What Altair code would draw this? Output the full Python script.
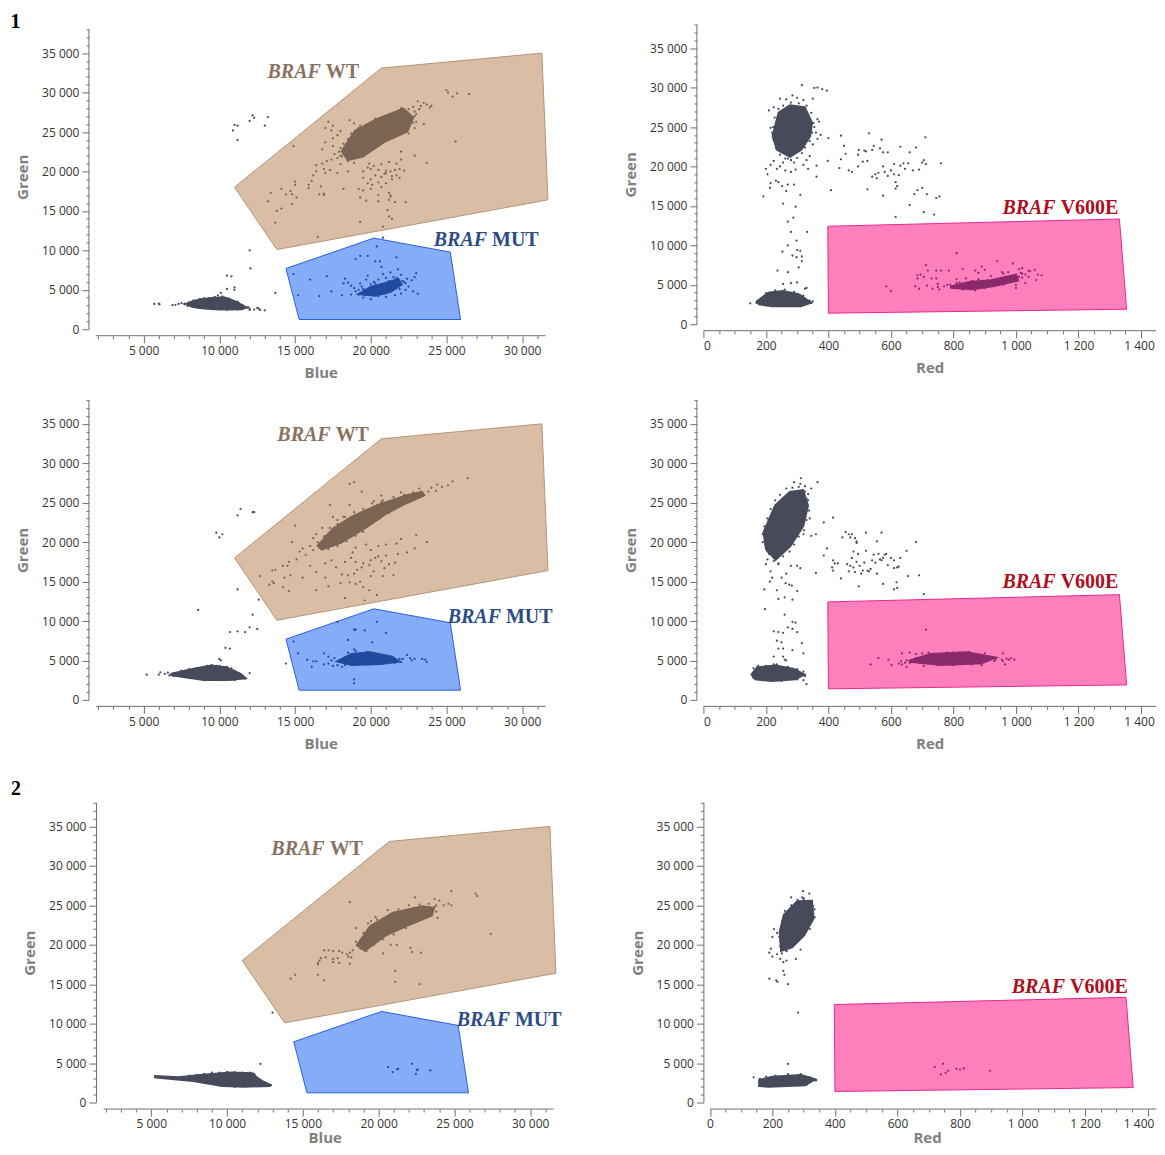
import altair as alt
import pandas as pd

# ---- gates (same in all panels) ----
GATE_WT = [(11000,18000),(13800,10100),(31700,16400),(31300,35000),(20700,33100)]
GATE_MUT = [(14400,7700),(20200,11550),(25250,9780),(25930,1230),(15270,1230)]
GATE_V600E = [(398,12420),(1331,13340),(1354,1900),(400,1400)]

# ---- panel 1, Blue / Green ----
A_CORE = [(7900,3200),(8500,3600),(9500,3900),(10300,4000),(11000,3500),(11700,2800),(11500,2600),(10000,2550),(9000,2700),(8200,2900)]
A_GRAY = [(5700,3200),(6000,3250),(6050,3150),(6900,3050),(7100,3100),(7300,3200),(7500,3300),(7700,3150),(12000,2600),(12300,2500),(12500,2700),(12600,2600),(12700,2450),(13000,2400),(12000,2450),(11900,2800),(10100,4600),(9900,4300),(10500,5100),(11000,5300),(11000,5000),(10500,6800),(10800,6700),(12000,10000),(12050,7700),(13700,4600),(10900,25200),(11000,25900),(11200,25800),(11200,24000),(12000,26400),(12200,27100),(12300,26800),(13000,25800),(13200,26900),(9000,3950),(8700,3800),(10600,3900),(11200,3500),(11500,3100),
(8000,3400),(8300,3650),(8800,3800),(9300,3950),(9700,4100),(10200,4150),(10700,3800),(11300,3300),(11800,2700),(11200,2500),(10500,2450),(9500,2550),(8600,2700),(7900,2950),(7700,3250),(8200,3500)]
A_WT_CORE = [(18120,22580),(18980,25120),(20440,26600),(22150,27880),(22760,26820),(22390,25120),(20930,23850),(19460,21950),(18490,21520)]
A_WT = [(23100,28900),(23300,28300),(23500,28700),(23700,28500),(24000,28300),(23900,28100),(23200,27900),(22900,27600),(22800,28200),(23000,27300),(22700,26700),(23000,26300),(23500,26000),(22900,25500),(22500,24800),(25000,30300),(25100,30000),(25400,29500),(25700,29900),(26500,29800),(25600,23800),(23700,21100),(22900,22000),(22000,22500),(17200,26300),(17000,25500),(17500,25800),(17400,25200),(18000,25100),(18600,26500),(18900,26100),(19300,25800),(17800,24600),(17500,24200),(17000,23700),(16800,22800),(17500,23200),(14900,23200),(18000,22000),(17600,22200),(17400,21500),(17800,21700),(17100,21300),(16800,21000),(16400,20800),(16900,20300),(16400,20000),(17000,19800),(16200,19500),(16100,18800),(15900,18300),(15900,17900),(16700,18100),(16900,17200),(16600,17100),(16900,17000),(15000,18700),(15000,18300),(14700,17500),(14800,17100),(15100,16700),(14400,17100),(14100,17800),(13400,17300),(13200,16200),(13800,15000),(14100,15300),(13700,13500),(14800,15900),(16500,11700),(19500,20000),(20000,20300),(20500,20200),(21000,20100),(21300,20000),(21600,20200),(21900,20300),(22200,20100),(21000,19800),(20300,19500),(20700,19300),(21400,19400),(20000,19000),(19800,18500),(20500,18600),(21000,18500),(21400,19000),(19500,19200),(19900,21000),(20700,20900),(21200,21200),(21700,21000),(22000,21500),(19200,17800),(19500,17600),(20000,17800),(20500,17000),(21200,17300),(21300,17000),(21300,16800),(19300,16700),(19700,16300),(20500,16200),(21200,16400),(21600,16100),(22300,16100),(21100,15100),(21200,14300),(21400,14000),(19300,13600),(20800,13000),(18200,17800),(18500,20000),(17800,19800),(18000,20900),(17300,20200),(18900,21100),(19800,20500),(20200,20700),(20900,19700),(21700,19500),(21900,19200),(20100,18300),(20700,18000),
(18000,23000),(18200,23500),(18500,24100),(18700,24800),(19200,25500),(19700,25900),(20300,26700),(20900,27000),(21500,27400),(22000,28000),(22500,27900),(22900,27000),(22800,26200),(22300,25500),(21700,24900),(21100,24100),(20500,23700),(20000,23000),(19500,22000),(19000,21800),(18500,21300),(18100,21900),(17900,22500)]
A_MUT_CORE = [(19300,4500),(20000,5300),(21000,5800),(21800,6300),(22000,5700),(21300,4800),(20300,4300)]
A_MUT = [(14900,7000),(15200,4300),(16000,6300),(16600,4200),(17100,6700),(17400,4800),(18100,4300),(18300,6400),(18700,4400),(18700,5500),(19000,8900),(19300,9300),(19800,9300),(20400,10500),(20800,11600),(20300,8600),(20600,8600),(20700,7900),(21700,9100),(21800,7600),(22000,6900),(19800,6800),(19700,6300),(19300,5800),(19000,4800),(18900,5200),(19200,4400),(19500,4000),(20000,3800),(20500,4200),(21000,4100),(21600,4300),(22000,4500),(22300,5000),(22500,5400),(22700,6200),(22900,6600),(23000,7100),(23100,4500),(22800,4800),(21500,6600),(21000,6500),(20500,6300),(20200,6000),(20800,7000),(21300,7200),(22200,6000),(22400,6400),(19500,5100),(19700,4700),(20300,5800),(18500,5900),(18200,5800),
(19500,4600),(19800,5000),(20100,4600),(20400,5000),(20700,4700),(21000,5000),(21300,5400),(21600,5700),(21900,5100),(22100,6100),(19200,5000),(19400,5400),(20000,5700),(20600,5500),(21200,6100),(21700,6500),(22300,5800),(20900,4500),(20300,4800),(19600,4300)]
B_CORE = [(231,25100),(242,26800),(277,27700),(323,27450),(346,25550),(340,23850),(312,22150),(277,21300),(237,22150),(223,23850)]
B_CORE2 = [(173,2880),(208,3940),(254,4150),(306,3730),(341,2750),(312,2330),(219,2330),(179,2580)]
B_GRAY = [(150,2650),(315,30300),(355,29950),(365,30000),(380,29800),(395,29600),(245,28600),(265,28500),(285,29000),(300,28700),(320,28400),(350,28600),(210,27100),(225,27500),(365,26000),(370,25700),(355,25000),(360,24300),(375,24000),(365,23500),(400,23600),(440,23900),(350,22800),(340,21300),(330,20800),(200,19700),(205,19000),(215,20200),(225,20700),(235,19700),(245,20000),(262,19500),(280,19300),(295,19600),(320,20200),(335,19700),(362,20100),(362,18700),(215,17900),(213,17300),(232,18200),(240,18000),(252,17500),(270,17700),(290,17700),(265,16900),(192,16200),(310,16400),(255,15300),(295,14900),(270,13000),(288,13500),(280,11700),(332,11700),(298,10600),(270,10000),(253,9200),(300,9400),(310,9300),(285,8700),(298,8500),(315,8600),(315,8000),(305,7200),(237,6800),(270,6600),(255,5100),(280,5200),(325,4500),(300,5300),(330,4600),(350,2900),
(398,20700),(408,17000),(440,20900),(435,19800),(450,22600),(455,21600),(465,19500),(475,19300),(495,21500),(497,22100),(495,20000),(510,20600),(515,22000),(520,21900),(525,20700),(530,24200),(525,17100),(540,22100),(545,22600),(550,19000),(540,18700),(555,18500),(560,19200),(570,23400),(565,22300),(575,21800),(575,20000),(580,19300),(575,16300),(590,21800),(590,18800),(600,19500),(610,20300),(610,19000),(615,18000),(620,17500),(615,17200),(625,18900),(630,22500),(630,20100),(640,20400),(645,19700),(655,20400),(660,21800),(680,22400),(670,19500),(675,16500),(685,17000),(690,19600),(700,20500),(700,17300),(705,20800),(710,23700),(712,20300),(715,16500),(760,20400),(745,16000),(755,16200),(705,14200),(738,13900),(615,13600),(660,15100),
(223,25000),(228,26200),(240,27300),(255,27700),(280,28100),(305,28000),(330,27700),(345,26800),(352,25500),(348,24300),(340,23200),(325,22400),(315,21700),(300,21100),(280,20800),(262,21000),(245,21500),(232,22300),(225,23300),(220,24300),(215,24900),(270,21000),(290,20500),(255,20500),(175,3000),(170,2700),(200,3900),(230,4300),(260,4400),(290,4100),(320,3600),(340,3000),(345,2700),(310,2400),(250,2300),(200,2400)]
B_V_CORE = [(790,4700),(850,5300),(920,5500),(1000,6200),(1005,5600),(930,4900),(860,4500)]
B_V = [(585,4800),(600,4200),(678,4800),(685,6200),(685,5800),(690,4500),(695,6300),(705,6000),(712,7500),(715,4900),(718,6800),(730,5800),(733,4500),(745,6800),(745,5800),(750,4700),(755,4400),(760,6800),(785,6800),(780,5000),(810,9000),(830,7000),(840,5800),(870,6800),(880,6500),(890,7300),(900,6900),(940,8000),(955,6600),(990,7700),(1000,5000),(1010,7000),(1020,7100),(1040,6800),(1030,6300),(1045,6700),(1060,6900),(1065,5600),(1070,6300),(1082,6200),(1020,5900),(1030,5200),(1000,4600),(1040,6000),(960,6400),(975,6600),(920,6100),(880,5700),(810,5700),(830,4400),(870,4300),(900,4600),(960,5000),(1015,6500),
(790,5000),(810,5200),(830,4700),(850,5000),(870,5300),(890,5000),(910,5600),(930,5500),(950,5800),(970,5900),(990,6100),(1010,6000),(1020,6400),(980,5400),(940,5200),(900,5200),(860,5500),(820,5300),(800,4600),(770,4800),(750,5100)]

# ---- panel 2 ----
C_CORE = [(6780,3220),(8240,3860),(9460,4280),(10440,4070),(11410,3220),(11660,2800),(10680,2580),(8980,2580),(7510,3000)]
C_GRAY = [(5200,3200),(6000,3200),(6100,3500),(6400,3300),(6600,3450),(6700,3100),(12000,3400),(10000,5200),(10100,5000),(10400,6600),(10700,6500),(8600,11400),(9800,21200),(10000,20600),(10200,21000),(11200,23400),(11400,24200),(12200,23800),(12300,23800),(12600,12700),(11200,14000),(12200,10800),(10700,8600),(11200,8700),(11700,8600),(12000,9200),(12500,9000),(14400,4600),(10800,4000),(11300,3300),(11000,3700),(9800,4300),(9200,4300),
(7000,3400),(7500,3700),(8000,3900),(8500,4000),(9000,4200),(9500,4400),(10000,4300),(10500,4200),(11000,3500),(11500,3000),(11700,2700),(11000,2500),(10000,2500),(9000,2500),(8000,2800),(7000,3000)]
C_WT_CORE = [(16540,19530),(17510,21650),(18730,23130),(20440,24620),(22390,25890),(23370,26310),(23490,25970),(22150,24830),(20930,23560),(19460,21650),(18000,19960),(16780,19110)]
C_WT = [(26400,28100),(25400,27700),(25100,27200),(24700,27000),(24400,27300),(24000,26900),(24300,26500),(23800,26400),(23200,26800),(22800,26000),(22000,26300),(21900,25500),(20700,25900),(20700,25100),(19400,26400),(18900,27600),(18600,27400),(18600,24700),(17300,24700),(15000,22100),(14800,20000),(17500,23200),(17800,22800),(17200,21000),(17000,20800),(16400,21000),(16800,21800),(18200,23200),(20200,25200),(16000,19500),(15500,19200),(15300,18800),(15700,18400),(15100,17800),(14600,17500),(14500,17000),(14200,17000),(13500,16400),(14300,15500),(14700,15800),(12700,15700),(13700,16500),(13500,15000),(13300,14600),(13600,14800),(14200,14300),(14600,13800),(16400,13900),(17200,14400),(18000,14800),(18600,14900),(19000,14700),(19500,14300),(19300,15000),(20000,15700),(20800,15700),(21500,15800),(18300,12900),(19600,12600),(20400,13300),(19900,13900),(15500,15500),(16000,17000),(16400,16200),(17000,15500),(17700,16800),(18100,15900),(18500,15800),(18900,16000),(19100,16500),(19400,16800),(19000,17500),(19500,17300),(19900,17100),(20000,17700),(20300,18000),(20500,18200),(20700,17600),(21000,18300),(21200,17200),(21600,17400),(21800,18500),(22400,18700),(22900,19200),(23000,20900),(23700,20000),(20900,16700),(20200,16300),(18800,18700),(18700,18000),(18300,17500),(17400,17700),(17000,17300),(20000,19000),(20500,19500),(21000,19700),(21700,19800),(22000,20400),(19700,19700),(19000,19300),(16200,20500),
(16200,19000),(16500,20000),(16900,20700),(17300,21800),(17800,22300),(18300,23200),(18900,23800),(19500,24200),(20100,24900),(20800,25300),(21500,25700),(22200,26000),(22800,26300),(23000,25800),(22400,25300),(21800,24500),(21200,23700),(20600,23000),(20000,22300),(19500,21300),(19000,20800),(18400,20100),(17800,19500),(17200,19100)]
C_MUT_CORE = [(17880,4910),(18730,5760),(19950,5970),(21410,5420),(21780,4910),(20680,4620),(18730,4490)]
C_MUT = [(14900,7400),(15200,5900),(15800,5100),(16200,4900),(16400,4900),(16100,4200),(16900,5900),(16900,4500),(17200,5500),(17400,5000),(17600,5300),(17200,4600),(17800,9900),(18900,8900),(19000,8900),(19600,8800),(20400,9900),(21000,8500),(18500,7600),(20100,7300),(18900,6400),(18500,6000),(19000,6200),(18900,2600),(18900,2100),(19100,5600),(19800,6100),(20500,5800),(21900,5200),(22100,5200),(22400,5700),(22600,5300),(22700,5000),(22900,5200),(23600,5100),(23700,4800),(23400,5200),(22000,4800),(21600,4700),(17500,4300),(17800,4400),(18100,4200),(18300,4400)]
D_CORE = [(194,21230),(231,24620),(277,26310),(318,26520),(333,24620),(318,22070),(277,19530),(231,17840),(202,19110)]
D_CORE2 = [(156,3220),(173,4070),(231,4280),(289,3860),(320,3220),(294,2670),(219,2460),(167,2670)]
D_GRAY = [(312,28100),(290,27600),(310,27400),(325,27100),(365,27600),(345,26800),(318,26500),(335,26100),(330,25500),(330,24000),(340,23000),(320,21000),(345,20800),(360,21000),(190,20000),(205,18800),(200,17200),(205,17800),(215,16300),(213,15000),(220,15500),(195,14000),(235,13900),(240,12800),(260,13000),(285,12700),(263,14800),(275,14600),(283,14500),(300,13800),(197,11500),(260,10800),(285,9900),(295,9800),(225,8700),(240,8600),(255,8500),(270,9200),(285,9000),(300,8600),(235,7500),(250,7300),(315,7200),(240,6500),(255,6500),(285,6300),(320,5900),(225,5500),(255,5500),(260,5100),(265,5000),(225,4500),(330,2000),(320,2500),(250,15500),(265,16000),(280,17000),(300,17000),(310,16700),(240,17200),
(385,18300),(395,19200),(415,17700),(412,16800),(415,16400),(420,17300),(430,17300),(360,16100),(385,22500),(415,23100),(440,15400),(445,20600),(455,21300),(465,21000),(470,20600),(475,21000),(485,20500),(490,20100),(490,19900),(520,21200),(497,14400),(460,17200),(465,16300),(470,17000),(475,18000),(480,18800),(480,16800),(485,16200),(490,17500),(495,18500),(500,17000),(505,16000),(510,16400),(515,17400),(520,18900),(525,16400),(530,16300),(535,16600),(540,17700),(545,18400),(550,17400),(555,16000),(555,20100),(560,18500),(565,17800),(570,17700),(570,21200),(575,18000),(580,18400),(575,14700),(585,18500),(590,17100),(600,18000),(610,17700),(610,16700),(625,16900),(630,18000),(620,16800),(610,14000),(618,14900),(620,14200),(650,18900),(680,20000),(655,15700),(690,15800),(705,13400),
(190,21000),(195,22000),(205,23000),(215,24200),(230,25300),(245,26000),(265,26800),(285,26900),(305,27000),(325,26400),(335,25300),(338,24000),(330,22800),(322,21500),(305,20700),(290,19700),(275,18800),(255,18200),(240,17300),(225,17600),(210,18500),(198,19700),(160,4000),(175,4300),(200,4300),(235,4500),(270,4200),(300,3900),(320,3600),(325,3000),(300,2600),(250,2400),(190,2500),(160,2800)]
D_V_CORE = [(658,4910),(727,5760),(843,5970),(930,5340),(889,4700),(762,4490)]
D_V = [(535,4500),(560,5300),(592,5100),(602,4400),(625,4600),(632,4900),(635,4500),(645,4700),(650,4200),(635,5900),(660,6000),(660,4700),(680,5800),(700,5900),(705,4300),(712,8900),(720,6000),(750,4400),(800,4400),(850,6100),(890,4400),(900,5900),(925,5400),(935,5100),(955,5100),(958,5900),(958,4900),(965,4500),(970,5200),(978,5100),(985,5300),(995,5100),(860,4500),(820,6000),(780,6000),
(650,5000),(680,5300),(710,5500),(740,4800),(770,5700),(800,6000),(830,5800),(860,5700),(900,5500),(930,4900),(900,5000),(850,4600),(790,4500),(730,4700),(690,4700)]

# ---- panel 3 ----
E_CORE = [(6780,3130),(8240,3430),(10200,3730),(11660,3640),(12150,2800),(12880,2160),(11170,2080),(9710,2160),(7760,2800),(5320,3220),(5200,3300)]
E_GRAY = [(12200,4900),(13000,11400),(11300,3600),(11700,3400),(9000,3300),(12500,2400),(12900,2200),
(6000,3100),(6500,3200),(7000,3000),(7500,3400),(8000,3500),(8500,3650),(9000,3800),(9500,3800),(10000,3900),(10500,3850),(11000,3800),(11500,3800),(11800,3600),(12200,2900),(11500,2100),(10500,2000),(9500,2150),(8500,2500)]
E_WT_CORE = [(18610,19960),(19460,22290),(20930,23980),(22880,24830),(23610,24620),(23490,23770),(21900,22500),(20440,21230),(19100,19320)]
E_WT = [(26400,26500),(26500,26200),(24800,26800),(23700,25800),(24000,25600),(22400,26000),(23800,25000),(24300,25000),(24600,25200),(24800,25000),(23900,23400),(18100,25400),(18500,22100),(16400,19300),(16700,19300),(17000,19200),(17400,19200),(17600,19000),(17900,18800),(18100,19000),(18300,19300),(18000,18500),(18200,18400),(17300,18300),(17000,18200),(17000,17800),(17400,17700),(16500,18400),(16200,18300),(16100,18000),(16000,17700),(16000,17500),(18100,17600),(20300,18900),(22100,19600),(22200,19100),(22800,19000),(21100,16700),(21100,15300),(22700,15000),(27400,21400),(14200,15700),(14500,16200),(16000,16200),(16400,15500),(18800,19500),(18800,20500),(20800,20000),(21200,20000),(19500,23000),(19800,23500),(20400,23300),
(18500,20400),(19000,21500),(19300,22700),(19900,23200),(20600,24400),(21300,24500),(22000,25000),(22700,25100),(23300,25200),(23700,24800),(23800,24200),(23200,23500),(22500,23000),(21800,22100),(21000,21300),(20300,20700),(19700,20000),(19200,19200)]
E_MUT = [(20630,4490),(20930,3860),(21220,4220),(21290,4280),(22200,4910),(22460,3640),(22520,4100),(22590,4190),(23410,4070)]
F_CORE = [(225,21650),(238,23770),(280,25460),(325,25500),(330,23340),(300,21230),(262,19740),(229,19300)]
F_CORE2 = [(159,2800),(200,3220),(292,3430),(333,2920),(304,2250),(188,2080),(159,2160)]
F_GRAY = [(298,26800),(318,26500),(260,26000),(295,26000),(300,25800),(282,25200),(335,24500),(325,24800),(330,24000),(335,23500),(320,22000),(205,22000),(200,21000),(195,19500),(190,19000),(200,18500),(215,18800),(225,18200),(235,17800),(245,18000),(230,18900),(245,19200),(290,19400),(275,18200),(235,16700),(238,16200),(190,15700),(212,15500),(216,15300),(250,15000),(282,11400),(250,4900),(140,3200),(250,20000),(225,20500),(215,21500),(340,2800),
(228,22300),(232,23000),(240,24300),(260,25000),(280,25700),(300,25900),(320,25500),(330,24900),(328,23500),(318,22700),(300,21800),(280,20900),(265,20000),(245,19200),(225,19800),(222,21000),(160,3000),(180,3300),(210,3400),(250,3600),(290,3600),(320,3200),(335,2800),(310,2300),(250,2100),(190,2100),(165,2100)]
F_V = [(719,4490),(746,4910),(739,3560),(754,3770),(762,4030),(789,4280),(800,4190),(812,4320),(896,4030)]

X_BLUE = [1850, 31540]
X_RED = [0, 1448]
Y_TOP = 38000
Y_TICKS = list(range(0, 38001, 1000))
BLUE_TICKS = list(range(2000, 31001, 1000))
RED_TICKS = list(range(0, 1401, 50))

FONT = "Open Sans"
SERIF = "Liberation Serif"
GRAY = "#474a5b"
AXC = "#6e6e6e"

def df(pts):
    return pd.DataFrame({"x": [p[0] for p in pts], "y": [p[1] for p in pts], "i": range(len(pts))})

def make_axis(title, values, major, off, pad, last_shift=0, labelpad=3):
    lab = f"datum.value % {major} === 0 ? replace(format(datum.value, ','), ',', ' ') : ''"
    extra = {}
    if last_shift:
        extra["labelOffset"] = {"condition": {"test": "datum.value === 1400", "value": last_shift}, "value": 0}
    return alt.Axis(
        title=title, values=values, labelExpr=lab, labelOverlap=False, grid=False, offset=off, domain=False,
        tickSize={"condition": {"test": f"datum.value % {major} === 0", "value": 7}, "value": 3},
        tickColor=AXC, labelColor="#333333", labelFont=FONT, labelFontSize=12,
        titleFont=FONT, titleFontSize=15, titleFontWeight="bold", titleColor="#808080",
        labelPadding=labelpad, titlePadding=pad, **extra,
    )

def panel(xtitle, xdom, xline, xvals, xmajor, w, ytop, h, yoff, xoff, yline_x, gates, polys, points, labels, extra=None, xpad=9, last_shift=0, labelpad=3):
    xs = alt.Scale(domain=xdom, nice=False, zero=False)
    ys = alt.Scale(domain=[0, ytop], nice=False)
    xax = make_axis(xtitle, xvals, xmajor, xoff, xpad, last_shift, labelpad)
    yax = make_axis("Green", Y_TICKS, 5000, yoff, 11)
    X = alt.X("x:Q", scale=xs, axis=xax)
    Y = alt.Y("y:Q", scale=ys, axis=yax)
    layers = []
    for pts, fill, stroke in gates:
        layers.append(alt.Chart(df(pts)).mark_line(fill=fill, stroke=stroke, strokeWidth=1, interpolate="linear-closed")
                      .encode(x=X, y=Y, order="i:Q"))
    # axis lines
    ybelow = -xoff / h * ytop
    layers.append(alt.Chart(pd.DataFrame({"x": [xline[0]], "x2": [xline[1]], "y": [ybelow]})).mark_rule(color=AXC)
                  .encode(x=X, x2="x2:Q", y=Y))
    layers.append(alt.Chart(pd.DataFrame({"x": [yline_x], "y": [0], "y2": [Y_TOP]})).mark_rule(color=AXC)
                  .encode(x=X, y=Y, y2="y2:Q"))
    for pts, col in polys:
        layers.append(alt.Chart(df(pts)).mark_line(fill=col, stroke=col, strokeWidth=3, interpolate="linear-closed")
                      .encode(x=X, y=Y, order="i:Q"))
    for pts, col in points:
        layers.append(alt.Chart(df(pts)).mark_circle(size=5, color=col, opacity=1).encode(x=X, y=Y))
    for xv, yv, a, b, col in labels:
        d = pd.DataFrame({"x": [xv], "y": [yv], "a": [a], "b": [b]})
        layers.append(alt.Chart(d).mark_text(font=SERIF, fontSize=20, fontWeight="bold", fontStyle="italic", align="right", baseline="middle", color=col)
                      .encode(x=X, y=Y, text="a:N"))
        layers.append(alt.Chart(d).mark_text(font=SERIF, fontSize=20, fontWeight="bold", align="left", dx=5, baseline="middle", color=col)
                      .encode(x=X, y=Y, text="b:N"))
    if extra:
        d = pd.DataFrame({"x": [extra[0]], "y": [extra[1]], "t": [extra[2]]})
        layers.append(alt.Chart(d).mark_text(font=SERIF, fontSize=20, fontWeight="bold", align="center", baseline="middle", color="#000000")
                      .encode(x=X, y=Y, text="t:N"))
    return alt.layer(*layers).properties(width=w, height=h)

WT = (GATE_WT, "#d9bda4", "#b5947a")
MUT = (GATE_MUT, "#85acf7", "#2a5fe0")
V6 = (GATE_V600E, "#ff80bd", "#e5288f")
C_WT_PT, C_MUT_PT, C_V_PT = "#7c6455", "#1f4a9e", "#8a2a6c"
L_WT, L_MUT, L_V = "#8a7262", "#2c4c86", "#ad0f1e"

p1 = panel("Blue", X_BLUE, X_BLUE, BLUE_TICKS, 5000, 450, 38633, 305, 7, 6.5, 1388, [WT, MUT],
           [(A_CORE, GRAY), (A_WT_CORE, C_WT_PT), (A_MUT_CORE, C_MUT_PT)],
           [(A_GRAY, GRAY), (A_WT, C_WT_PT), (A_MUT, C_MUT_PT)],
           [(16700, 32630, "BRAF", "WT", L_WT), (27680, 11320, "BRAF", "MUT", L_MUT)], (-3456, 38970, "1"))
p2 = panel("Red", X_RED, X_RED, RED_TICKS, 200, 453, Y_TOP, 300, 6.5, 6.5, -20.8, [V6],
           [(B_CORE, GRAY), (B_CORE2, GRAY), (B_V_CORE, C_V_PT)],
           [(B_GRAY, GRAY), (B_V, C_V_PT)],
           [(1127, 14750, "BRAF", "V600E", L_V)], last_shift=-2)
p3 = panel("Blue", X_BLUE, X_BLUE, BLUE_TICKS, 5000, 450, Y_TOP, 300, 7, 6.5, 1388, [WT, MUT],
           [(C_CORE, GRAY), (C_WT_CORE, C_WT_PT), (C_MUT_CORE, C_MUT_PT)],
           [(C_GRAY, GRAY), (C_WT, C_WT_PT), (C_MUT, C_MUT_PT)],
           [(17350, 33640, "BRAF", "WT", L_WT), (28600, 10560, "BRAF", "MUT", L_MUT)])
p4 = panel("Red", X_RED, X_RED, RED_TICKS, 200, 453, Y_TOP, 300, 6.5, 6.5, -20.8, [V6],
           [(D_CORE, GRAY), (D_CORE2, GRAY), (D_V_CORE, C_V_PT)],
           [(D_GRAY, GRAY), (D_V, C_V_PT)],
           [(1127, 14960, "BRAF", "V600E", L_V)], last_shift=-2)
p5 = panel("Blue", [1349, 31540], X_BLUE, BLUE_TICKS, 5000, 458, Y_TOP, 300, 0, 6.5, 1389, [WT, MUT],
           [(E_CORE, GRAY), (E_WT_CORE, C_WT_PT)],
           [(E_GRAY, GRAY), (E_WT, C_WT_PT), (E_MUT, C_MUT_PT)],
           [(16440, 32200, "BRAF", "WT", L_WT), (28670, 10520, "BRAF", "MUT", L_MUT)], (-3918, 39690, "2"), xpad=1, labelpad=2)
p6 = panel("Red", [-20.8, 1410], [0, 1428], RED_TICKS, 200, 447.7, Y_TOP, 300, 0, 6.5, -19.2, [V6],
           [(F_CORE, GRAY), (F_CORE2, GRAY)],
           [(F_GRAY, GRAY), (F_V, C_V_PT)],
           [(1136, 14700, "BRAF", "V600E", L_V)], xpad=1, last_shift=-9, labelpad=2)

def spacer(h):
    return alt.Chart(pd.DataFrame({"x": [0]})).mark_point(opacity=0, size=1).encode(
        x=alt.X("x:Q", axis=None), y=alt.Y("x:Q", axis=None)).properties(width=1, height=h)

chart = alt.concat(p1, p2, spacer(10.7), spacer(10.7), p3, p4, spacer(42.4), spacer(42.4), p5, p6,
                   columns=2, spacing={"row": 30, "column": 150}, bounds="flush", align="each").properties(
    padding={"left": 2, "top": 3, "right": 0, "bottom": 0}, background="white"
).configure_view(stroke=None)

chart.save("out.html", embed_options={"renderer": "svg", "actions": False})
